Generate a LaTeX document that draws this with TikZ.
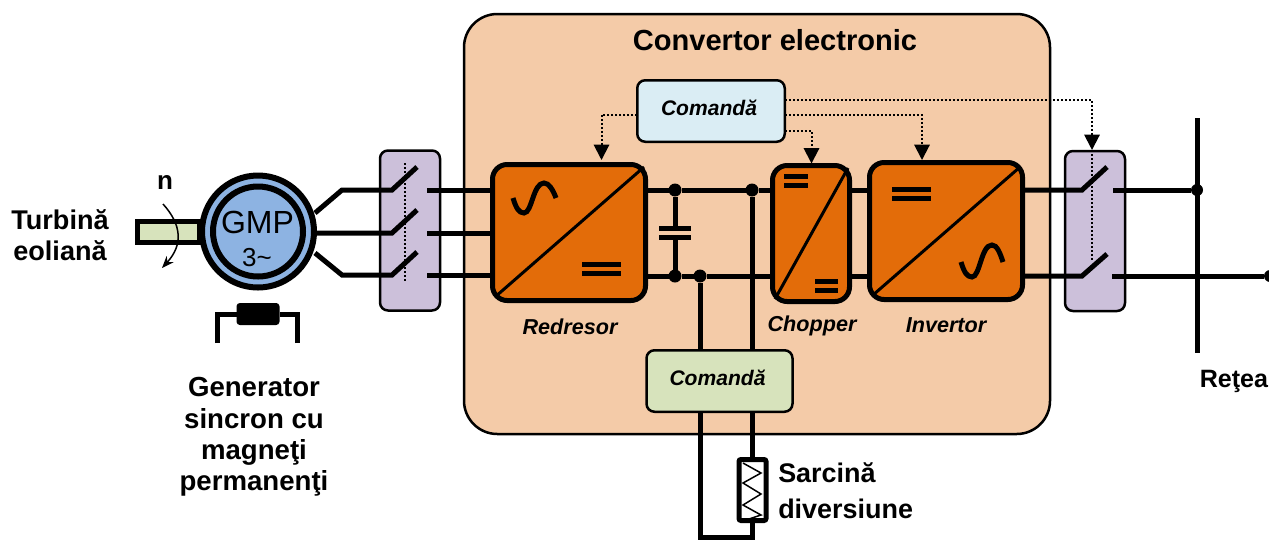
\documentclass[tikz,border=0pt]{standalone}
\usepackage{fontspec}
\setmainfont{Liberation Sans}
\usetikzlibrary{arrows.meta}
\definecolor{peach}{HTML}{F4CBA8}
\definecolor{conv}{HTML}{E36C09}
\definecolor{lilac}{HTML}{CCC0DA}
\definecolor{skyb}{HTML}{DAEDF4}
\definecolor{leaf}{HTML}{D7E3BC}
\definecolor{motor}{HTML}{8DB3E2}
\tikzset{
  wh/.style 2 args={minimum width=#1*0.75pt,minimum height=#2*0.75pt,inner sep=0pt,outer sep=0pt},
  pw/.style={line width=#1*0.75pt},
  wire/.style={pw=5,draw=black,line join=miter},
  conbox/.style={draw=black,fill=conv,pw=5,rounded corners=11pt},
  breaker/.style={draw=black,fill=lilac,pw=2.5,rounded corners=6pt},
  cmdbox/.style={draw=black,pw=2.5,rounded corners=6pt,font=\fontsize{15.8pt}{18pt}\selectfont\bfseries\itshape,text depth=5pt},
  diag/.style={pw=3,draw=black},
  bar/.style={pw=5,draw=black},
  sine/.style={pw=5,draw=black,line cap=butt},
  ctrl/.style={pw=2,draw=black,dash pattern=on 1.5pt off 1.5pt},
  ctrltip/.style={-{Triangle[width=11.5pt,length=11.5pt]}},
  dot/.style={circle,fill=black,minimum size=#1*0.75pt,inner sep=0pt,outer sep=0pt},
  lab/.style={font=\fontsize{20.3pt}{24pt}\selectfont\bfseries,align=center,inner sep=0pt},
  ilab/.style={font=\fontsize{16.2pt}{18pt}\selectfont\bfseries\itshape,inner sep=0pt},
}
\begin{document}
\begin{tikzpicture}[x=0.75pt,y=-0.75pt]
\useasboundingbox (0,0) rectangle (1269,540);
% main enclosure
\node[draw=black,fill=peach,pw=2.5,rounded corners=25pt,wh={586}{420}] (enc) at (757,224) {};
\node[font=\fontsize{21.8pt}{24pt}\selectfont\bfseries,inner sep=0pt] (title) at (775,40) {Convertor electronic};
% breakers
\node[breaker,wh={60}{160}] (brkL) at (410,230.5) {};
\node[breaker,wh={60}{160}] (brkR) at (1095,231) {};
% named points
\coordinate (genA) at (315,213); \coordinate (kA) at (342,190); \coordinate (swA) at (392,190); \coordinate (swAt) at (417,167);
\coordinate (genB) at (316,233); \coordinate (swB) at (392,233); \coordinate (swBt) at (417,210);
\coordinate (genC) at (315,253); \coordinate (kC) at (342,275); \coordinate (swC) at (392,275); \coordinate (swCt) at (417,252);
\coordinate (ctA) at (427,190); \coordinate (ctB) at (427,233); \coordinate (ctC) at (427,275);
\coordinate (swD) at (1082,190); \coordinate (swDt) at (1107,167); \coordinate (ctD) at (1113,190);
\coordinate (swE) at (1082,276); \coordinate (swEt) at (1107,254); \coordinate (ctE) at (1112,276);
% power converters
\node[conbox,wh={153}{136}] (red) at (569,232.5) {};
\node[conbox,wh={77}{136}] (cho) at (811,233.5) {};
\node[conbox,wh={153}{137}] (inv) at (946,231) {};
% junctions
\node[dot=13] (jA) at (675,190) {};
\node[dot=13] (jB) at (752,190) {};
\node[dot=13] (jC) at (675,276) {};
\node[dot=13] (jD) at (700,276) {};
\coordinate (capT) at (675,228); \coordinate (capB) at (675,237);
% control boxes
\node[cmdbox,fill=skyb,wh={147.5}{61.5}] (cmdA) at (711,111) {Comandă\hspace*{3pt}};
\node[cmdbox,fill=leaf,wh={146}{61.5}] (cmdB) at (719.5,381) {Comandă\hspace*{3pt}};
% wires left
\draw[wire] (genA) -- (kA) -- (swA) -- (swAt);
\draw[wire] (genB) -- (swB) -- (swBt);
\draw[wire] (genC) -- (kC) -- (swC) -- (swCt);
\draw[wire] (ctA) -- (red.west |- ctA);
\draw[wire] (ctB) -- (red.west |- ctB);
\draw[wire] (ctC) -- (red.west |- ctC);
\draw[ctrl] (405,163) -- (405,283);
% DC bus
\draw[wire] (red.east |- jA) -- (jA) -- (jB) -- (cho.west |- jB);
\draw[wire] (red.east |- jC) -- (jC) -- (jD) -- (cho.west |- jD);
\draw[wire] (cho.east |- jB) -- (inv.west |- jB);
\draw[wire] (cho.east |- jD) -- (inv.west |- jD);
\draw[wire] (jA) -- (capT);
\draw[wire] (capB) -- (jC);
\draw[bar] (659,228) -- (691,228);
\draw[bar] (659,237) -- (691,237);
\draw[wire] (jD) -- (jD |- cmdB.north);
\draw[wire] (jB) -- (jB |- cmdB.north);
% inverter to grid
\draw[wire] (inv.east |- swD) -- (swD) -- (swDt);
\draw[wire] (inv.east |- swE) -- (swE) -- (swEt);
% grid bus
\node[dot=12] (jG) at (1197,190) {};
\node[dot=12] (jH) at (1270,276) {};
\coordinate (busT) at (1197,118); \coordinate (busB) at (1197,353);
\draw[pw=5] (busT) -- (busB);
\draw[wire] (ctD) -- (jG);
\draw[wire] (ctE) -- (jH);
% diversion load
\node[draw=black,fill=white,pw=5,rounded corners=1.5pt,wh={27}{61}] (load) at (752.5,490) {};
\coordinate (loopL) at (700,537); \coordinate (loopR) at (752,537);
\draw[wire] (jD |- cmdB.south) -- (loopL) -- (loopR) -- (jB |- load.south);
\draw[wire] (jB |- cmdB.south) -- (jB |- load.north);
\draw[pw=1.5] (743,463) -- (761,473) -- (743,483) -- (761,494) -- (743,505) -- (761,515) -- (746,520);
% converter symbols
\draw[diag] (495,297) -- (644,167);
\draw[bar] (582,264) -- (621,264);
\draw[bar] (582,273) -- (621,273);
\draw[sine] (513,198) .. controls (516,208) and (519,213) .. (524,213) .. controls (532,213) and (533,183) .. (544,183) .. controls (549,183) and (553,190) .. (556,198);
\draw[diag] (775,299) -- (848,168);
\draw[bar] (784,176) -- (808,176);
\draw[bar] (784,185) -- (808,185);
\draw[bar] (815,281) -- (838,281);
\draw[bar] (815,290) -- (838,290);
\draw[diag] (873,295) -- (1020,167);
\draw[bar] (892,189) -- (931,189);
\draw[bar] (892,198) -- (931,198);
\draw[sine] (961,262) .. controls (964,272) and (967,277) .. (972,277) .. controls (980,277) and (981,245) .. (992,245) .. controls (997,245) and (1000,253) .. (1003,262);
% control signals
\coordinate (tipR) at (601.5,160); \coordinate (tipC) at (811.5,163.5); \coordinate (tipI) at (922,160); \coordinate (tipS) at (1092,150); \coordinate (endS) at (1092,262);
\draw[ctrl,ctrltip] (cmdA.west |- 0,114.5) -| (tipR);
\draw[ctrl,ctrltip] (cmdA.east |- 0,131) -| (tipC);
\draw[ctrl,ctrltip] (cmdA.east |- 0,115) -| (tipI);
\draw[ctrl,ctrltip] (cmdA.east |- 0,100) -| (tipS);
\draw[ctrl] (tipS) -- (endS);
% generator
\node[draw=black,fill=leaf,pw=5,wh={62}{21}] (shaft) at (168,232) {};
\node[circle,draw=black,fill=motor,pw=6,minimum size=112*0.75pt,inner sep=0pt,outer sep=0pt] (gen) at (258,231.5) {};
\node[circle,draw=black,fill=motor,pw=6,minimum size=90*0.75pt,inner sep=0pt,outer sep=0pt] (genI) at (258,231.5) {};
\node[font=\fontsize{24pt}{24pt}\selectfont,inner sep=0pt] (gmp) at (257.5,222) {GMP};
\node[font=\fontsize{19.5pt}{20pt}\selectfont,inner sep=0pt] (ph) at (257,258) {3\char"7E};
\node[font=\fontsize{19.5pt}{24pt}\selectfont\bfseries,inner sep=0pt] (n) at (165,182) {n};
\coordinate (rotA) at (163,204); \coordinate (rotB) at (162,268);
\draw[pw=1.5,-{Stealth[length=9pt,width=7pt]}] (rotA) .. controls (182,225) and (183,245) .. (rotB);
% brake
\node[fill=black,rounded corners=2.5pt,wh={43}{22}] (brake) at (258,314) {};
\coordinate (brL) at (217,343); \coordinate (brR) at (297,343);
\draw[pw=5] (brL) |- (brake.west);
\draw[pw=5] (brR) |- (brake.east);
% labels
\node[lab,font=\fontsize{20.3pt}{23.2pt}\selectfont\bfseries] (turb) at (60,235) {Turbină\\eoliană};
\node[lab,font=\fontsize{20.7pt}{23.5pt}\selectfont\bfseries] (genL) at (254,437) {Generator\\sincron cu\\magneţi\\permanenţi};
\node[ilab] (redL) at (570,327) {Redresor};
\node[ilab] (choL) at (812,326) {Chopper};
\node[ilab] (invL) at (946,325) {Invertor};
\node[lab,font=\fontsize{20.2pt}{27pt}\selectfont\bfseries,align=left,anchor=west] (sarL) at (778,491) {Sarcină\\diversiune};
\node[lab,font=\fontsize{18.8pt}{24pt}\selectfont\bfseries,anchor=west] (retL) at (1199.5,381) {Reţea};
\end{tikzpicture}
\end{document}
